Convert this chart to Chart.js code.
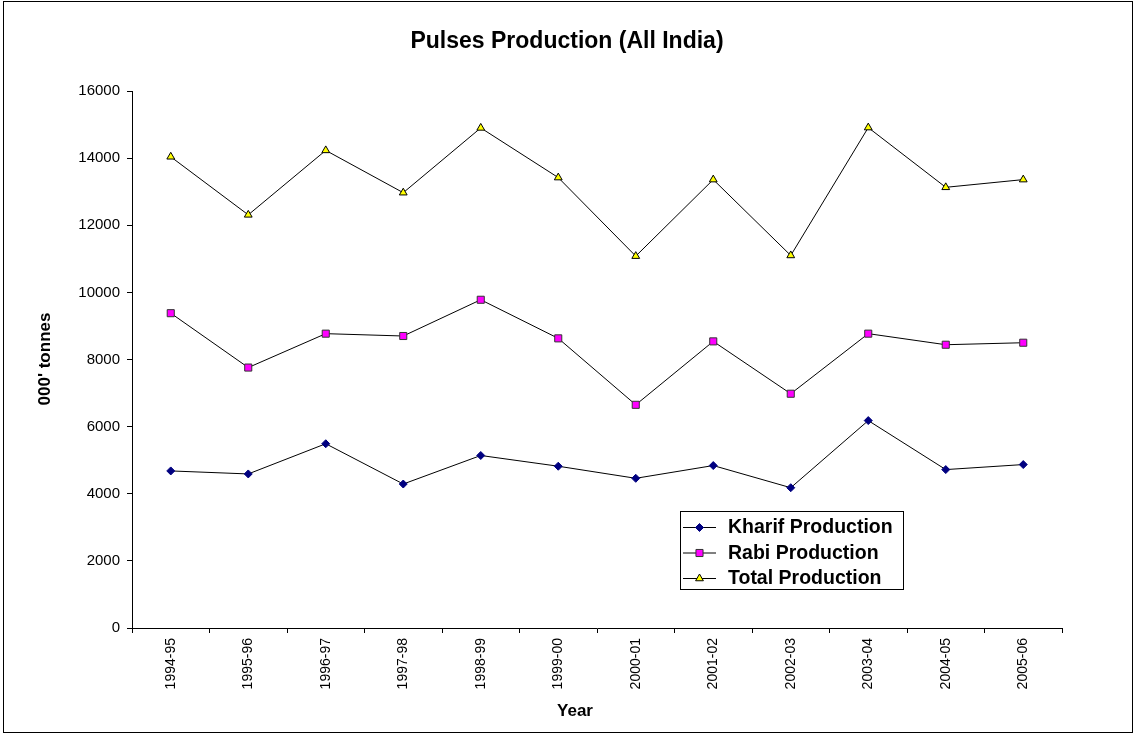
<!DOCTYPE html>
<html>
<head>
<meta charset="utf-8">
<title>Pulses Production (All India)</title>
<script src="https://cdn.jsdelivr.net/npm/chart.js@4/dist/chart.umd.min.js"></script>
<style>
  html, body { margin: 0; padding: 0; background: #ffffff; }
  #wrap { width: 1135px; height: 736px; position: relative; }
</style>
</head>
<body>
<div id="wrap"><canvas id="chart" width="1135" height="736"></canvas></div>
<script>
// Pulses production by season, '000 tonnes
const years = ['1994-95', '1995-96', '1996-97', '1997-98', '1998-99', '1999-00',
               '2000-01', '2001-02', '2002-03', '2003-04', '2004-05', '2005-06'];
const kharif = [4680, 4590, 5490, 4290, 5140, 4820, 4460, 4840, 4180, 6180, 4720, 4870];
const rabi   = [9380, 7760, 8770, 8700, 9780, 8630, 6650, 8540, 6980, 8770, 8440, 8500];
const total  = [14040, 12310, 14230, 12970, 14900, 13420, 11080, 13360, 11100, 14910, 13130, 13360];
const yTicks = [0, 2000, 4000, 6000, 8000, 10000, 12000, 14000, 16000];

const chartTitle = 'Pulses Production (All India)';
const yTitle = "000' tonnes";
const xTitle = 'Year';

const FONT = "'Liberation Sans', Arial, sans-serif";

function series(label, data, style, fill, stroke, radius) {
  return {
    label, data,
    borderColor: '#000000', borderWidth: 1, tension: 0, fill: false,
    pointStyle: style, pointRadius: radius, pointHoverRadius: radius,
    pointBackgroundColor: fill, pointBorderColor: stroke, pointBorderWidth: 1
  };
}

// Frame, titles and the boxed legend
const decor = {
  id: 'decor',
  afterDraw(chart) {
    const ctx = chart.ctx;
    ctx.save();
    ctx.strokeStyle = '#000000';
    ctx.lineWidth = 1;
    ctx.strokeRect(3.5, 1.5, 1129, 731);

    ctx.fillStyle = '#000000';
    ctx.textAlign = 'center';
    ctx.textBaseline = 'alphabetic';
    ctx.font = 'bold 23px ' + FONT;
    ctx.fillText(chartTitle, 567, 48);

    ctx.font = 'bold 17px ' + FONT;
    ctx.textBaseline = 'middle';
    ctx.fillText(xTitle, 575, 711);
    ctx.save();
    ctx.translate(45, 359);
    ctx.rotate(-Math.PI / 2);
    ctx.fillText(yTitle, 0, 0);
    ctx.restore();

    // legend
    const lx = 680.5, ly = 511.5, lw = 223, lh = 78;
    ctx.fillStyle = '#ffffff';
    ctx.fillRect(lx, ly, lw, lh);
    ctx.strokeStyle = '#000000';
    ctx.strokeRect(lx, ly, lw, lh);
    ctx.font = 'bold 19.5px ' + FONT;
    ctx.textAlign = 'left';
    chart.data.datasets.forEach((ds, i) => {
      const y = 527 + i * 25.5;
      ctx.strokeStyle = '#000000';
      ctx.lineWidth = 1;
      ctx.beginPath();
      ctx.moveTo(683, y + 0.5);
      ctx.lineTo(716, y + 0.5);
      ctx.stroke();
      ctx.fillStyle = ds.pointBackgroundColor;
      ctx.strokeStyle = ds.pointBorderColor;
      Chart.helpers.drawPoint(ctx, {
        pointStyle: ds.pointStyle, radius: ds.pointRadius, borderWidth: 1, rotation: 0
      }, 699.5, y + 0.5);
      ctx.fillStyle = '#000000';
      ctx.fillText(ds.label, 728, y + 1);
    });
    ctx.restore();
  }
};

new Chart(document.getElementById('chart'), {
  type: 'line',
  data: {
    labels: years,
    datasets: [
      series('Kharif Production', kharif, 'rectRot', '#000080', '#000080', 4),
      series('Rabi Production', rabi, 'rect', '#FF00FF', '#333333', 5),
      series('Total Production', total, 'triangle', '#FFFF00', '#000000', 4.5)
    ]
  },
  options: {
    responsive: false,
    animation: false,
    layout: { padding: { top: 91, right: 73, left: 0, bottom: 0 } },
    plugins: { legend: { display: false }, title: { display: false }, tooltip: { enabled: false } },
    scales: {
      x: {
        type: 'category',
        offset: true,
        afterFit(scale) { scale.height = 108; },
        grid: { offset: true, drawOnChartArea: false, drawTicks: true, tickLength: 5, color: '#000000' },
        border: { display: true, color: '#000000', width: 1 },
        ticks: {
          color: '#000000', font: { family: FONT, size: 14 },
          minRotation: 90, maxRotation: 90, autoSkip: false, padding: 5
        }
      },
      y: {
        min: 0, max: 16000,
        afterFit(scale) { scale.width = 132; },
        afterBuildTicks(scale) { scale.ticks = yTicks.map(v => ({ value: v })); },
        grid: { drawOnChartArea: false, drawTicks: true, tickLength: 5, color: '#000000' },
        border: { display: true, color: '#000000', width: 1 },
        ticks: {
          color: '#000000', font: { family: FONT, size: 15 }, padding: 7,
          callback: (v) => String(v)
        }
      }
    }
  },
  plugins: [decor]
});
</script>
</body>
</html>
